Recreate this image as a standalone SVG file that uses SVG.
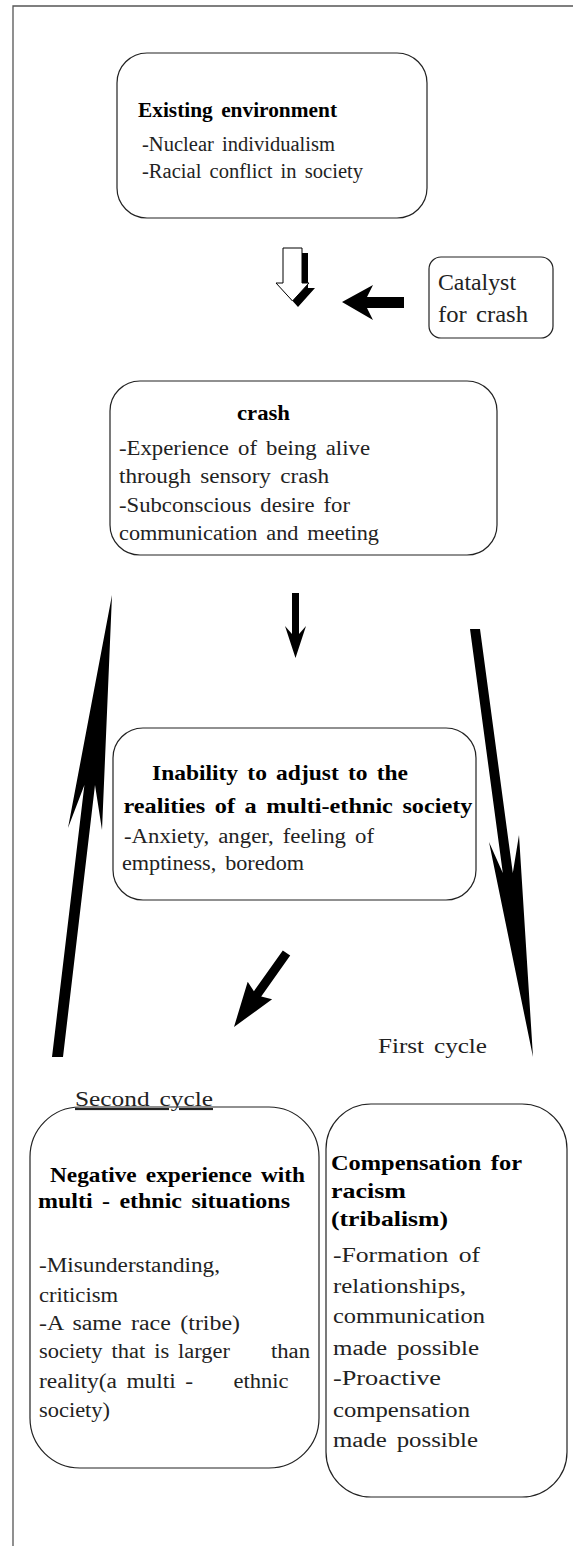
<svg xmlns="http://www.w3.org/2000/svg" width="573" height="1546" viewBox="0 0 573 1546">
<style>
.frame{fill:none;stroke:#555;stroke-width:1.3}
.box{fill:#fff;stroke:#222;stroke-width:1.2}
.t{font-family:"Liberation Serif","Times New Roman",serif;font-size:20px;fill:#222;word-spacing:3px}
.b{font-family:"Liberation Serif","Times New Roman",serif;font-size:21px;font-weight:bold;fill:#000;word-spacing:3px}
.c{font-size:23px}
.l{font-size:21px}
.ar{fill:#000;stroke:none}
.hollow{fill:#fff;stroke:#000;stroke-width:1}
</style>
<rect width="573" height="1546" fill="#fff"/>
<path class="frame" d="M13,1546 V6 H573"/>

<g id="connectors">
  <polygon class="ar" points="288,253 308,253 308,288 315,288 298,307 281,288 288,288"/>
  <polygon class="hollow" points="283,248 302,248 302,283 309,283 292.5,301 276,283 283,283"/>
  <polygon class="ar" points="342,302 373,285 367,297 404,297 404,308 367,308 373,320"/>
  <polygon class="ar" points="292,593 299,593 299,634 306,626 295.5,658 285,626 292,634"/>
  <polygon class="ar" points="290.2,955.6 261.2,996.4 272.1,999.2 234,1027 247.7,981.8 253.9,991.2 282.8,950.4"/>
  <polygon class="ar" points="470,629 480,629 512.8,873 519,835 533,1057 489,842 502.8,873"/>
  <polygon class="ar" points="112,595 102,830 95,785 63,1057 52,1057 84.4,785 68,828"/>
</g>

<g id="node-existing">
  <rect class="box" x="117" y="53" width="310" height="165" rx="30"/>
  <text class="b" x="138" y="117" textLength="199" lengthAdjust="spacingAndGlyphs">Existing environment</text>
  <text class="t" x="142" y="150.5" textLength="193" lengthAdjust="spacingAndGlyphs">-Nuclear individualism</text>
  <text class="t" x="142" y="178" textLength="221" lengthAdjust="spacingAndGlyphs">-Racial conflict in society</text>
</g>

<g id="node-catalyst">
  <rect class="box" x="429" y="257" width="124" height="81" rx="12"/>
  <text class="t c" x="438" y="290" textLength="78" lengthAdjust="spacingAndGlyphs">Catalyst</text>
  <text class="t c" x="438" y="322" textLength="90" lengthAdjust="spacingAndGlyphs">for crash</text>
</g>

<g id="node-crash">
  <rect class="box" x="110" y="381" width="387" height="174" rx="30"/>
  <text class="b" x="237" y="420" textLength="53" lengthAdjust="spacingAndGlyphs">crash</text>
  <text class="t" x="119" y="455" textLength="251" lengthAdjust="spacingAndGlyphs">-Experience of being alive</text>
  <text class="t" x="119" y="483" textLength="210" lengthAdjust="spacingAndGlyphs">through sensory crash</text>
  <text class="t" x="119" y="512" textLength="231" lengthAdjust="spacingAndGlyphs">-Subconscious desire for</text>
  <text class="t" x="119" y="540" textLength="260" lengthAdjust="spacingAndGlyphs">communication and meeting</text>
</g>

<g id="node-inability">
  <rect class="box" x="113" y="728" width="363" height="172" rx="30"/>
  <text class="b" x="152" y="780" textLength="256" lengthAdjust="spacingAndGlyphs">Inability to adjust to the</text>
  <text class="b" x="123.5" y="813" textLength="349" lengthAdjust="spacingAndGlyphs">realities of a multi-ethnic society</text>
  <text class="t" x="124" y="843" textLength="250" lengthAdjust="spacingAndGlyphs">-Anxiety, anger, feeling of</text>
  <text class="t" x="122" y="870" textLength="182" lengthAdjust="spacingAndGlyphs">emptiness, boredom</text>
</g>

<g id="label-first-cycle">
  <text class="t l" x="378" y="1053" textLength="109" lengthAdjust="spacingAndGlyphs">First cycle</text>
</g>

<g id="node-negative">
  <rect class="box" x="30" y="1107" width="289" height="361" rx="50"/>
  <text class="t l" x="75" y="1106" textLength="138" lengthAdjust="spacingAndGlyphs" text-decoration="underline">Second cycle</text>
  <text class="b" x="50" y="1182" textLength="255" lengthAdjust="spacingAndGlyphs">Negative experience with</text>
  <text class="b" x="38" y="1208" textLength="252" lengthAdjust="spacingAndGlyphs">multi - ethnic situations</text>
  <text class="t" x="39" y="1272" textLength="181" lengthAdjust="spacingAndGlyphs">-Misunderstanding,</text>
  <text class="t" x="39" y="1302" textLength="79" lengthAdjust="spacingAndGlyphs">criticism</text>
  <text class="t" x="39" y="1330" textLength="201" lengthAdjust="spacingAndGlyphs">-A same race (tribe)</text>
  <text class="t" y="1358"><tspan x="39" textLength="191" lengthAdjust="spacingAndGlyphs">society that is larger</tspan><tspan x="271" textLength="39" lengthAdjust="spacingAndGlyphs">than</tspan></text>
  <text class="t" y="1388"><tspan x="39" textLength="154" lengthAdjust="spacingAndGlyphs">reality(a multi -</tspan><tspan x="233.5" textLength="55" lengthAdjust="spacingAndGlyphs">ethnic</tspan></text>
  <text class="t" x="39" y="1417" textLength="71" lengthAdjust="spacingAndGlyphs">society)</text>
</g>

<g id="node-compensation">
  <rect class="box" x="326" y="1104" width="241" height="393" rx="45"/>
  <text class="b" x="331" y="1170" textLength="191" lengthAdjust="spacingAndGlyphs">Compensation for</text>
  <text class="b" x="331" y="1198" textLength="75" lengthAdjust="spacingAndGlyphs">racism</text>
  <text class="b" x="331" y="1226" textLength="117" lengthAdjust="spacingAndGlyphs">(tribalism)</text>
  <text class="t" x="333" y="1262" textLength="147" lengthAdjust="spacingAndGlyphs">-Formation of</text>
  <text class="t" x="333" y="1293" textLength="133" lengthAdjust="spacingAndGlyphs">relationships,</text>
  <text class="t" x="333" y="1323" textLength="152" lengthAdjust="spacingAndGlyphs">communication</text>
  <text class="t" x="333" y="1355" textLength="146" lengthAdjust="spacingAndGlyphs">made possible</text>
  <text class="t" x="333" y="1385" textLength="108" lengthAdjust="spacingAndGlyphs">-Proactive</text>
  <text class="t" x="333" y="1417" textLength="137" lengthAdjust="spacingAndGlyphs">compensation</text>
  <text class="t" x="333" y="1447" textLength="145" lengthAdjust="spacingAndGlyphs">made possible</text>
</g>
</svg>
